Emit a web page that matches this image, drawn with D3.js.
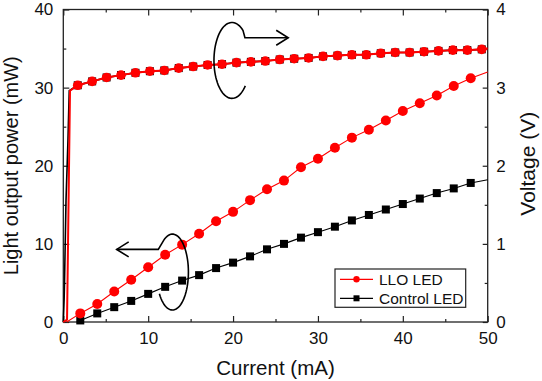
<!DOCTYPE html>
<html><head><meta charset="utf-8">
<script src="https://cdn.jsdelivr.net/npm/d3@7"></script>
<style>
html,body{margin:0;padding:0;background:#fff;}
svg text{font-family:"Liberation Sans",Arial,sans-serif;fill:#111;}
</style></head>
<body>
<svg id="chart" width="542" height="381"></svg>
<script>
// ---------- data ----------
const powerCurrent = [2,4,6,8,10,12,14,16,18,20,22,24,26,28,30,32,34,36,38,40,42,44,46,48];
const lloPower     = [1.1,2.3,3.9,5.4,7.0,8.6,9.9,11.3,12.9,14.1,15.6,17.0,18.1,19.8,20.9,22.3,23.6,24.6,25.8,27.0,28.0,29.0,30.2,31.2];
const controlPower = [0.2,1.1,1.9,2.7,3.6,4.5,5.3,6.0,6.9,7.6,8.4,9.3,10.0,10.8,11.5,12.2,13.0,13.7,14.4,15.1,15.8,16.5,17.1,17.8];
// line ends (no markers)
const lloPowerStart = [0.4, 0], lloPowerEnd = [50, 32.0];
const controlPowerStart = [1.6, 0], controlPowerEnd = [50, 18.2];

const voltCurrent = [1.7,3.4,5.1,6.8,8.5,10.2,11.9,13.6,15.3,17.0,18.7,20.4,22.1,23.8,25.5,27.2,28.9,30.6,32.3,34.0,35.7,37.4,39.1,40.8,42.5,44.2,45.9,47.6,49.3];
const lloVoltage     = [3.03,3.08,3.13,3.16,3.19,3.21,3.22,3.25,3.27,3.29,3.30,3.32,3.33,3.34,3.36,3.37,3.38,3.40,3.41,3.42,3.42,3.44,3.45,3.45,3.46,3.47,3.48,3.48,3.49];
const controlVoltage = [3.03,3.08,3.13,3.16,3.19,3.21,3.22,3.25,3.27,3.29,3.30,3.32,3.33,3.34,3.36,3.37,3.38,3.40,3.41,3.42,3.42,3.44,3.45,3.45,3.46,3.47,3.48,3.48,3.49];
// turn-on part of the I-V curves (no markers)
const lloRiseCurrent = [0, 0.44, 0.79];
const lloRiseVoltage = [0, 0.03, 2.96];
const controlRiseCurrent = [0, 0.10, 0.14, 0.32, 0.55, 0.70];
const controlRiseVoltage = [0, 0.30, 0.50, 1.56, 2.33, 2.96];
const voltEndCurrent = 50, voltEndValue = 3.50;

const xTicks = [0,10,20,30,40,50];
const xMinor = [5,15,25,35,45];
const pTicks = [0,10,20,30,40];
const pMinor = [5,15,25,35];
const vTicks = [0,1,2,3,4];
const vMinor = [0.5,1.5,2.5,3.5];
const seriesNames = ["LLO LED","Control LED"];
const seriesColors = ["#ff0000","#000000"];

// ---------- layout ----------
const W = 542, H = 381;
const m = {left:63.3, right:54.3, top:9.5, bottom:59};
const svg = d3.select("#chart");
const x = d3.scaleLinear().domain([0,50]).range([m.left, W-m.right]);
const yP = d3.scaleLinear().domain([0,40]).range([H-m.bottom, m.top]);
const yV = d3.scaleLinear().domain([0,4]).range([H-m.bottom, m.top]);
const x0 = m.left, x1 = W-m.right, y0 = H-m.bottom, y1 = m.top;
const fmt = d3.format("d");

// ---------- axes ----------
const axisColor = "#222";
function styleAxis(g, fs){
  g.selectAll("path.domain").remove();
  g.selectAll("line").attr("stroke", axisColor).attr("stroke-width",1.2);
  g.selectAll("text").style("font-size", fs+"px").attr("fill","#111");
}
svg.append("g").attr("transform",`translate(0,${y0})`)
  .call(d3.axisBottom(x).tickValues(xTicks).tickFormat(fmt).tickSizeInner(-6).tickSizeOuter(0).tickPadding(9.5))
  .call(g=>styleAxis(g,17));
svg.append("g").attr("transform",`translate(0,${y0})`)
  .call(d3.axisBottom(x).tickValues(xMinor).tickSizeInner(-3).tickSizeOuter(0).tickFormat(""))
  .call(g=>styleAxis(g,17));
svg.append("g").attr("transform",`translate(0,${y1})`)
  .call(d3.axisTop(x).tickValues(xTicks).tickSizeInner(-6).tickSizeOuter(0).tickFormat(""))
  .call(g=>styleAxis(g,17));
svg.append("g").attr("transform",`translate(0,${y1})`)
  .call(d3.axisTop(x).tickValues(xMinor).tickSizeInner(-3).tickSizeOuter(0).tickFormat(""))
  .call(g=>styleAxis(g,17));
svg.append("g").attr("transform",`translate(${x0},0)`)
  .call(d3.axisLeft(yP).tickValues(pTicks).tickFormat(fmt).tickSizeInner(-6).tickSizeOuter(0).tickPadding(10))
  .call(g=>styleAxis(g,17));
svg.append("g").attr("transform",`translate(${x0},0)`)
  .call(d3.axisLeft(yP).tickValues(pMinor).tickSizeInner(-3).tickSizeOuter(0).tickFormat(""))
  .call(g=>styleAxis(g,17));
svg.append("g").attr("transform",`translate(${x1},0)`)
  .call(d3.axisRight(yV).tickValues(vTicks).tickFormat(fmt).tickSizeInner(-5).tickSizeOuter(0).tickPadding(8.5))
  .call(g=>styleAxis(g,17));
svg.append("g").attr("transform",`translate(${x1},0)`)
  .call(d3.axisRight(yV).tickValues(vMinor).tickSizeInner(-3).tickSizeOuter(0).tickFormat(""))
  .call(g=>styleAxis(g,17));

// frame
svg.append("rect").attr("x",x0).attr("y",y1).attr("width",x1-x0).attr("height",y0-y1)
  .attr("fill","none").attr("stroke",axisColor).attr("stroke-width",1.3);

// axis titles
svg.append("text").attr("x",(x0+x1)/2).attr("y",375).attr("text-anchor","middle")
  .style("font-size","20.5px").text("Current (mA)");
svg.append("text").attr("transform",`translate(18,${(y0+y1)/2}) rotate(-90)`).attr("text-anchor","middle")
  .style("font-size","20px").text("Light output power (mW)");
svg.append("text").attr("transform",`translate(535,${(y0+y1)/2 - 2}) rotate(-90)`).attr("text-anchor","middle")
  .style("font-size","21px").text("Voltage (V)");

// ---------- plot ----------
const plot = svg.append("g");
const lineP = d3.line().x(d=>x(d[0])).y(d=>yP(d[1]));
const lineV = d3.line().x(d=>x(d[0])).y(d=>yV(d[1]));
const sq = 8, cr = 4.8;

function squares(g, pts, yScale, s, color){
  g.selectAll(null).data(pts).enter().append("rect")
    .attr("x",d=>x(d[0])-s/2).attr("y",d=>yScale(d[1])-s/2)
    .attr("width",s).attr("height",s).attr("fill",color);
}
function circles(g, pts, yScale, r, color){
  g.selectAll(null).data(pts).enter().append("circle")
    .attr("cx",d=>x(d[0])).attr("cy",d=>yScale(d[1])).attr("r",r).attr("fill",color);
}

// Voltage curves
const ctrlV = controlRiseCurrent.map((c,i)=>[c,controlRiseVoltage[i]])
  .concat(voltCurrent.map((c,i)=>[c,controlVoltage[i]])).concat([[voltEndCurrent,voltEndValue]]);
const lloV = lloRiseCurrent.map((c,i)=>[c,lloRiseVoltage[i]])
  .concat(voltCurrent.map((c,i)=>[c,lloVoltage[i]])).concat([[voltEndCurrent,voltEndValue]]);
plot.append("path").attr("d",lineV(ctrlV)).attr("fill","none").attr("stroke","#000").attr("stroke-width",1.6);
squares(plot, voltCurrent.map((c,i)=>[c,controlVoltage[i]]), yV, sq, "#000");
plot.append("path").attr("d",lineV(lloV)).attr("fill","none").attr("stroke","#ff0000").attr("stroke-width",2);
circles(plot, voltCurrent.map((c,i)=>[c,lloVoltage[i]]), yV, cr, "#ff0000");

// Power curves
const ctrlP = [controlPowerStart].concat(powerCurrent.map((c,i)=>[c,controlPower[i]])).concat([controlPowerEnd]);
plot.append("path").attr("d",lineP(ctrlP)).attr("fill","none").attr("stroke","#000").attr("stroke-width",1.1);
squares(plot, powerCurrent.map((c,i)=>[c,controlPower[i]]), yP, sq, "#000");
const lloP = [lloPowerStart].concat(powerCurrent.map((c,i)=>[c,lloPower[i]])).concat([lloPowerEnd]);
plot.append("path").attr("d",lineP(lloP)).attr("fill","none").attr("stroke","#ff0000").attr("stroke-width",1.1);
circles(plot, powerCurrent.map((c,i)=>[c,lloPower[i]]), yP, 5, "#ff0000");

// ---------- annotations (loop arrows, in data units) ----------
function loopArrow(cx, cy, rx, ry, a0, a1, corner, tip){
  const p = d3.path();
  const pts = d3.range(0, 61).map(k=>{
    const a = (a0 + (a1-a0)*k/60) * Math.PI/180;
    return [x(cx) + (x(cx+rx)-x(cx))*Math.cos(a), yP(cy) + (yP(cy-ry)-yP(cy))*Math.sin(a)];
  });
  p.moveTo(pts[0][0], pts[0][1]);
  pts.slice(1).forEach(q=>p.lineTo(q[0],q[1]));
  p.lineTo(x(corner[0]), yP(corner[1]));
  p.lineTo(x(tip[0]), yP(tip[1]));
  const dir = Math.sign(x(tip[0]) - x(corner[0]));
  const tx = x(tip[0]), ty = yP(tip[1]);
  const hl = 12, hw = 7.5;
  const arrow = d3.path();
  arrow.moveTo(tx - dir*hl, ty - hw); arrow.lineTo(tx, ty); arrow.lineTo(tx - dir*hl, ty + hw);
  svg.append("path").attr("d", p.toString()).attr("fill","none").attr("stroke","#000").attr("stroke-width",1.6);
  svg.append("path").attr("d", arrow.toString()).attr("fill","none").attr("stroke","#000").attr("stroke-width",1.6);
}
// right (voltage) annotation
loopArrow(19.87, 33.48, 2.12, 4.86, 42, 308, [21.4, 36.38], [26.5, 36.38]);
// left (power) annotation
loopArrow(12.86, 6.39, 1.88, 4.86, 145, -128, [11.19, 9.29], [6.29, 9.29]);

// ---------- legend ----------
const lg = svg.append("g");
lg.append("rect").attr("x",335).attr("y",269).attr("width",130.7).attr("height",38.3)
  .attr("fill","#fff").attr("stroke","#222").attr("stroke-width",1.2);
const rows = [279.3, 298.3];
seriesNames.forEach((name,i)=>{
  const yy = rows[i];
  lg.append("line").attr("x1",340).attr("x2",373).attr("y1",yy).attr("y2",yy)
    .attr("stroke",seriesColors[i]).attr("stroke-width",1.3);
  if(i===0) lg.append("circle").attr("cx",356.5).attr("cy",yy).attr("r",3.2).attr("fill",seriesColors[i]);
  else lg.append("rect").attr("x",353.5).attr("y",yy-3).attr("width",6).attr("height",6).attr("fill",seriesColors[i]);
  lg.append("text").attr("x",379).attr("y",yy).attr("dy","0.36em").style("font-size","15.5px").text(name);
});
</script>
</body></html>
